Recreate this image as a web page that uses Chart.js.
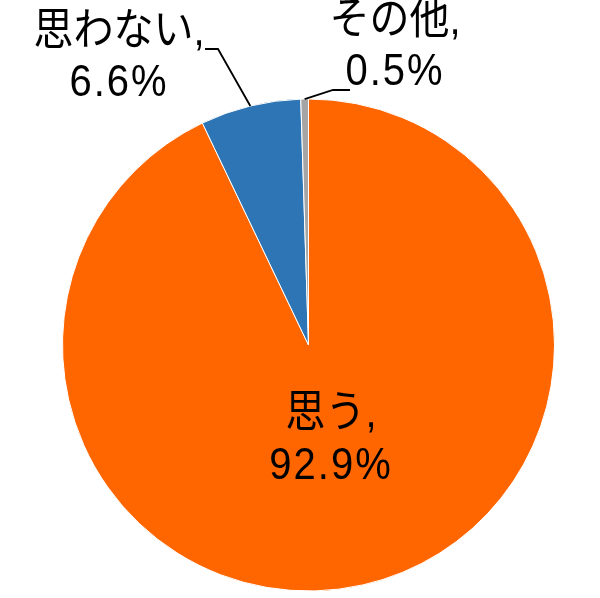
<!DOCTYPE html>
<html>
<head>
<meta charset="utf-8">
<script src="https://cdn.jsdelivr.net/npm/chart.js@4"></script>
<style>
html,body{margin:0;padding:0;background:#fff;}
#wrap{width:600px;height:598px;}
</style>
</head>
<body>
<div id="wrap"><canvas id="c" width="600" height="598"></canvas></div>
<script>
const categories = ["思う", "思わない", "その他"];
const values = [92.9, 6.6, 0.5];
const colors = ["#FF6600", "#2E75B6", "#A5A5A5"];

// label placement (pixels) and leader line elbows
const labelSpecs = [
  { idx: 0, x: 331, y1: 415, y2: 467, line: null },
  { idx: 1, x: 119, y1: 33, y2: 84, line: { endX: 205, elbowX: 218, y: 49 } },
  { idx: 2, x: 395, y1: 22, y2: 73, line: { endX: 350, elbowX: 333, y: 90 } }
];

const labelPlugin = {
  id: 'pieLabels',
  afterDatasetsDraw(chart) {
    const ctx = chart.ctx;
    const meta = chart.getDatasetMeta(0);
    ctx.save();
    labelSpecs.forEach(s => {
      const arc = meta.data[s.idx];
      if (s.line) {
        const mid = (arc.startAngle + arc.endAngle) / 2;
        const px = arc.x + Math.cos(mid) * arc.outerRadius;
        const py = arc.y + Math.sin(mid) * arc.outerRadius;
        ctx.beginPath();
        ctx.strokeStyle = '#000';
        ctx.lineWidth = 1.8;
        ctx.moveTo(s.line.endX, s.line.y);
        ctx.lineTo(s.line.elbowX, s.line.y);
        ctx.lineTo(px, py);
        ctx.stroke();
      }
      const lines = [categories[s.idx] + ",", values[s.idx].toFixed(1) + "%"];
      const ys = [s.y1, s.y2];
      lines.forEach((t, i) => {
        ctx.save();
        ctx.translate(s.x, ys[i]);
        ctx.scale(1, 1.12);
        ctx.font = '40px "Liberation Sans", "Noto Sans CJK JP", sans-serif';
        ctx.letterSpacing = i === 1 ? '2px' : '0px';
        ctx.fillStyle = '#000';
        ctx.textAlign = 'center';
        ctx.textBaseline = 'middle';
        ctx.fillText(t, 0, 0);
        ctx.restore();
      });
    });
    ctx.restore();
  }
};

new Chart(document.getElementById('c'), {
  type: 'pie',
  data: {
    labels: categories,
    datasets: [{
      data: values,
      backgroundColor: colors,
      borderColor: '#FFFFFF',
      borderWidth: 1
    }]
  },
  options: {
    responsive: false,
    animation: false,
    layout: { padding: { left: 62, right: 45, top: 98, bottom: 6 } },
    plugins: {
      legend: { display: false },
      tooltip: { enabled: false }
    }
  },
  plugins: [labelPlugin]
});
</script>
</body>
</html>
